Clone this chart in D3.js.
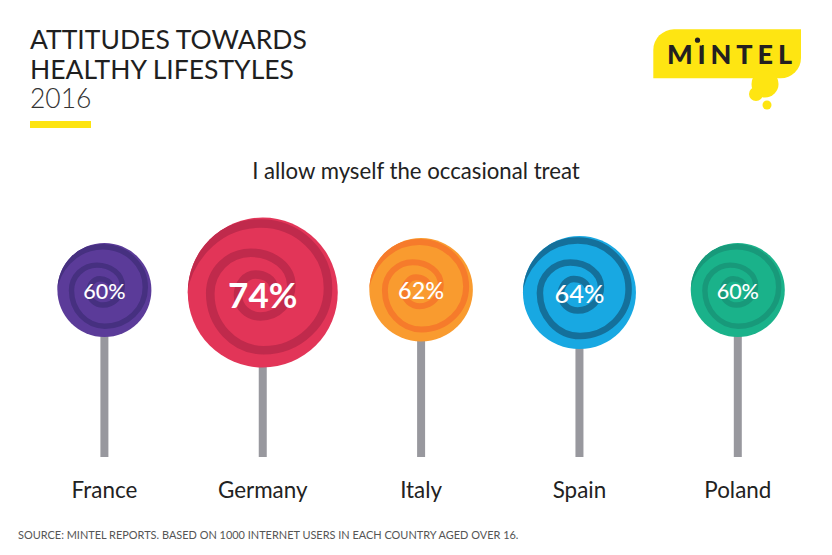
<!DOCTYPE html>
<html><head><meta charset="utf-8">
<script src="https://cdn.jsdelivr.net/npm/d3@7/dist/d3.min.js"></script>
<style>html,body{margin:0;padding:0;background:#fff}svg{display:block}text{font-family:Lato,sans-serif}</style>
</head><body><div id="c"></div>
<script>
const countries = ["France","Germany","Italy","Spain","Poland"];
const values = [60,74,62,64,60];
const fills = ["#5b3b99","#e23558","#f99b2f","#18a8e2","#1ab28a"];
const swirls = ["#463080","#c02a4c","#f67b2b","#14709b","#18997a"];
const titleLines = ["ATTITUDES TOWARDS","HEALTHY LIFESTYLES"];
const year = "2016";
const question = "I allow myself the occasional treat";
const source = "SOURCE: MINTEL REPORTS. BASED ON 1000 INTERNET USERS IN EACH COUNTRY AGED OVER 16.";

const W=832,H=555;
const svg=d3.select("#c").append("svg").attr("width",W).attr("height",H).attr("viewBox",`0 0 ${W} ${H}`);

// title block
svg.selectAll(".title").data(titleLines).join("text").attr("class","title")
  .attr("x",30).attr("y",(d,i)=>49+i*30).attr("font-size",26.5).attr("fill","#1f1f1f").text(d=>d);
svg.append("text").attr("x",30).attr("y",108).attr("font-size",26.5).attr("font-weight",300).attr("fill","#333").text(year);
svg.append("rect").attr("x",30).attr("y",121).attr("width",61).attr("height",7).attr("fill","#fde40f");

// logo
const logo=svg.append("g").attr("fill","#fee512");
logo.append("path").attr("d","M653.3 78.3V50a20.7 20.7 0 0 1 20.7-20.7H801V58a20.3 20.3 0 0 1-20.3 20.3Z");
logo.append("circle").attr("cx",765).attr("cy",84).attr("r",13.5);
logo.append("circle").attr("cx",756).attr("cy",94).attr("r",7);
logo.append("circle").attr("cx",767).attr("cy",105).attr("r",4.5);
svg.append("text").attr("x",667).attr("y",64).attr("font-size",27).attr("font-weight",900)
  .attr("fill","#231f20").attr("textLength",125).attr("lengthAdjust","spacing").text("MINTEL");
svg.append("rect").attr("x",693).attr("y",40).attr("width",9).attr("height",5.5).attr("fill","#fee512");
svg.append("circle").attr("cx",697.5).attr("cy",40.2).attr("r",2.6).attr("fill","#231f20");

svg.append("text").attr("x",416).attr("y",178.5).attr("text-anchor","middle").attr("font-size",22.2).attr("fill","#222").text(question);

// scales
const x=d3.scalePoint().domain(countries).range([104.4,737.8]);
const r=d3.scaleLinear().domain([60,64,74]).range([47,56.5,75]);
const fs=d3.scaleLinear().domain([60,74]).range([21.5,35]);
const cy=v=>v>=64?292.5:(v>=62?289.7:290);

// candy swirl: quarter-turn waypoints on a unit circle, alternating side / top-bottom extremes
const spiral=[[-1.08,0.2],[-0.03,-0.92],[0.87,-0.06],[0.01,0.77],[-0.70,0.01],[-0.16,-0.53],[0.38,-0.1],[-0.03,0.32],[-0.33,0.04],[-0.1,-0.24],[0.14,-0.08]];
function swirlPath(px,py,R){
  const k=0.5523,p=d3.path(),P=spiral.map(q=>[px+q[0]*R,py+q[1]*R]);
  p.moveTo(P[0][0],P[0][1]);
  for(let i=1;i<P.length;i++){
    const a=P[i-1],b=P[i];
    if(i%2===1) p.bezierCurveTo(a[0],a[1]+k*(b[1]-a[1]),b[0]+k*(a[0]-b[0]),b[1],b[0],b[1]);
    else p.bezierCurveTo(a[0]+k*(b[0]-a[0]),a[1],b[0],b[1]+k*(a[1]-b[1]),b[0],b[1]);
  }
  return p.toString();
}

const defs=svg.append("defs");
const g=svg.selectAll(".pop").data(countries).join("g").attr("class","pop");
g.append("rect").attr("x",c=>x(c)-4).attr("width",8)
  .attr("y",(c,i)=>cy(values[i])).attr("height",(c,i)=>457-cy(values[i])).attr("fill","#98989e");
g.each(function(c,i){
  const v=values[i],R=r(v),px=x(c),py=cy(v),sel=d3.select(this);
  defs.append("clipPath").attr("id","clip"+i).append("circle").attr("cx",px).attr("cy",py).attr("r",R);
  sel.append("circle").attr("cx",px).attr("cy",py).attr("r",R).attr("fill",fills[i]);
  sel.append("path").attr("d",swirlPath(px,py,R))
    .attr("fill","none").attr("stroke",swirls[i]).attr("stroke-width",R*0.115)
    .attr("clip-path",`url(#clip${i})`);
  sel.append("text").attr("x",px).attr("y",py+fs(v)*0.36+1+(v===74?1.5:0)).attr("text-anchor","middle")
    .attr("font-size",fs(v)).attr("font-weight",v===74?700:500).attr("fill","#fff").text(v+"%");
  sel.append("text").attr("x",px).attr("y",498).attr("text-anchor","middle")
    .attr("font-size",22.4).attr("fill","#222").text(c);
});

svg.append("text").attr("x",18).attr("y",539).attr("font-size",10.95).attr("fill","#555").text(source);
</script></body></html>
